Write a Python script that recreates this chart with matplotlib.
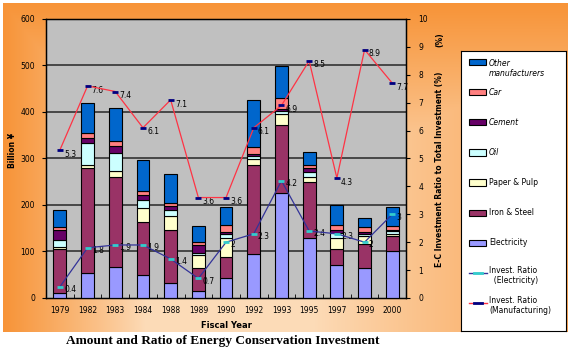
import numpy as np
import matplotlib
matplotlib.use("Agg")
import matplotlib.pyplot as plt
from matplotlib.patches import Rectangle
from matplotlib.lines import Line2D

years = ["1979", "1982", "1983", "1984", "1988", "1989", "1990",
         "1992", "1993", "1995", "1997", "1999", "2000"]

# stacked amounts, billion yen
electricity = [11, 53, 67, 49, 32, 16, 42, 94, 225, 128, 72, 65, 100]
iron_steel = [94, 227, 193, 115, 114, 49, 47, 192, 147, 122, 34, 52, 33]
paper_pulp = [5, 7, 13, 30, 30, 27, 41, 12, 23, 10, 22, 16, 5]
oil = [14, 46, 38, 17, 13, 5, 7, 7, 7, 11, 11, 4, 5]
cement = [22, 12, 16, 10, 9, 17, 4, 5, 4, 9, 7, 5, 4]
car = [6, 10, 11, 9, 7, 7, 17, 15, 25, 7, 11, 11, 8]
other = [37, 64, 70, 67, 61, 34, 38, 100, 68, 27, 44, 20, 41]

ratio_elec = [0.4, 1.8, 1.9, 1.9, 1.4, 0.7, 2, 2.3, 4.2, 2.4, 2.3, 2, 3]
ratio_manu = [5.3, 7.6, 7.4, 6.1, 7.1, 3.6, 3.6, 6.1, 6.9, 8.5, 4.3, 8.9, 7.7]

series = [("Electricity", electricity, "#9999FF"),
          ("Iron & Steel", iron_steel, "#993366"),
          ("Paper & Pulp", paper_pulp, "#FFFFCC"),
          ("Oil", oil, "#CCFFFF"),
          ("Cement", cement, "#660066"),
          ("Car", car, "#FF8080"),
          ("Other\nmanufacturers", other, "#0066CC")]

fig = plt.figure(figsize=(5.68, 3.51), dpi=100)

# orange gradient background
bg = fig.add_axes([0.005, 0.055, 0.995, 0.937], zorder=-10)
yy, xx = np.mgrid[0:1:200j, 0:1:300j]
f = np.maximum.reduce([1 - yy / 0.55, 1 - xx / 0.25, (xx - 0.55) / 0.6])
f = np.clip(f, 0, 1) ** 0.9
dark = np.array([0.97, 0.58, 0.22])
light = np.array([0.99, 0.86, 0.72])
img = light + (dark - light) * f[..., None]
bg.imshow(img, aspect="auto", extent=[0, 1, 0, 1])
bg.axis("off")

ax = fig.add_axes([0.081, 0.151, 0.634, 0.795])
ax.set_facecolor("#C0C0C0")
x = np.arange(len(years))
bottom = np.zeros(len(years))
for name, vals, col in series:
    ax.bar(x, vals, 0.46, bottom=bottom, color=col, edgecolor="black",
           linewidth=0.8, zorder=3)
    bottom += np.array(vals)

ax.set_xlim(-0.5, len(years) - 0.5)
ax.set_ylim(0, 600)
ax.set_yticks(range(0, 601, 100))
for v in range(100, 600, 100):
    ax.axhline(v, color="#333333", linewidth=1.2, zorder=1)
ax.set_xticks(x)
ax.set_xticklabels(years, fontsize=5.5)
ax.set_xticks(np.arange(len(years) + 1) - 0.5, minor=True)
ax.tick_params(axis="x", which="major", length=0, pad=6)
ax.tick_params(axis="x", which="minor", direction="in", length=3)
ax.tick_params(axis="y", labelsize=5.5, length=3, pad=5)
for s in ax.spines.values():
    s.set_linewidth(1.0)
ax.set_xlabel("Fiscal Year", fontsize=6, fontweight="bold", labelpad=4)
ax.set_ylabel("Billion ¥", fontsize=5.5, fontweight="bold")
ax.yaxis.set_label_coords(-0.08, 0.53)

ax2 = ax.twinx()
ax2.set_ylim(0, 10)
ax2.set_yticks(range(0, 11))
ax2.tick_params(axis="y", labelsize=5.5, length=3, pad=6)
ax2.plot(x, ratio_manu, color="#FF3344", linewidth=0.9, marker="_",
         markersize=5, markeredgewidth=2, markeredgecolor="#000080", zorder=5)
ax2.plot(x, ratio_elec, color="#333399", linewidth=0.9, marker="_",
         markersize=5, markeredgewidth=2, markeredgecolor="#33CCCC", zorder=5)
for xi, v in zip(x, ratio_manu):
    ax2.annotate(f"{v:g}", (xi, v), xytext=(3, -3), textcoords="offset points",
                 fontsize=5.5, va="center")
for xi, v in zip(x, ratio_elec):
    ax2.annotate(f"{v:g}", (xi, v), xytext=(3, -2), textcoords="offset points",
                 fontsize=5.5, va="center")
ax2.set_ylabel("E-C Investment Ratio to Total Investment (%)", fontsize=5.5,
               fontweight="bold")
ax2.yaxis.set_label_coords(1.08, 0.46)
fig.text(0.775, 0.886, "(%)", fontsize=5.5, fontweight="bold", rotation=90,
         ha="center", va="center")

# legend box
lg = fig.add_axes([0.811, 0.057, 0.185, 0.798])
lg.set_xlim(0, 1)
lg.set_ylim(0, 1)
lg.set_xticks([])
lg.set_yticks([])
lg.set_facecolor("white")
ypos = np.linspace(0.96, 0.10, 9)
entries = list(reversed(series))
for i, (name, vals, col) in enumerate(entries):
    yc = ypos[i]
    lg.add_patch(Rectangle((0.08, yc - 0.011), 0.16, 0.022, facecolor=col,
                           edgecolor="black", linewidth=0.8))
    lg.text(0.27, yc + (0.012 if i == 0 else 0), name, fontsize=5.5,
            va="top" if i == 0 else "center",
            fontstyle="italic" if i < 4 else "normal")
lg.add_line(Line2D([0.08, 0.25], [ypos[7], ypos[7]], color="#333399", linewidth=1))
lg.add_line(Line2D([0.13, 0.20], [ypos[7], ypos[7]], color="#33CCCC", linewidth=2))
lg.text(0.27, ypos[7] - 0.01, "Invest. Ratio\n  (Electricity)", fontsize=5.5, va="center")
lg.add_line(Line2D([0.08, 0.25], [ypos[8], ypos[8]], color="#FF3344", linewidth=1))
lg.add_line(Line2D([0.13, 0.20], [ypos[8], ypos[8]], color="#000080", linewidth=2))
lg.text(0.27, ypos[8] - 0.01, "Invest. Ratio\n(Manufacturing)", fontsize=5.5, va="center")

fig.text(0.393, 0.028, "Amount and Ratio of Energy Conservation Investment",
         fontsize=9.6, fontweight="bold", family="Liberation Serif",
         ha="center", va="center")

fig.savefig("out.png", dpi=100)
